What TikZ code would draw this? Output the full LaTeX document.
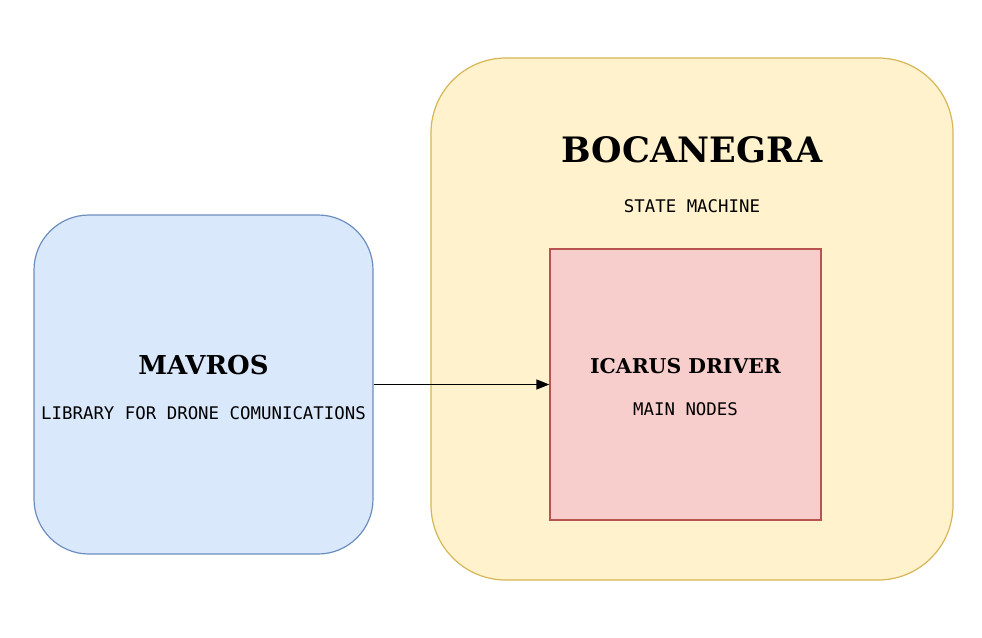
\documentclass[tikz,border=0pt]{standalone}
\usepackage{fontspec}
\newfontfamily\titlefont{DejaVu Serif}
\newfontfamily\monofont{DejaVu Sans Mono}
\usetikzlibrary{arrows.meta}
\definecolor{bluefill}{HTML}{DAE8FC}
\definecolor{blueline}{HTML}{6C8EBF}
\definecolor{yellowfill}{HTML}{FFF2CC}
\definecolor{yellowline}{HTML}{D6B656}
\definecolor{redfill}{HTML}{F8CECC}
\definecolor{redline}{HTML}{B85450}
\tikzset{
  box/.style={inner sep=0pt, line width=1.2pt},
  ttl/.style={font=\titlefont\bfseries, inner sep=0pt, anchor=center},
  sub/.style={font=\monofont\fontsize{17.4}{20}\selectfont, inner sep=0pt, anchor=center},
  conn/.style={line width=1.2pt, -{Triangle[length=13pt,width=10pt]}},
}
\begin{document}
\begin{tikzpicture}[x=1pt,y=-1pt]
\useasboundingbox (0,0) rectangle (982,637);
% boxes
\node[box, draw=yellowline, fill=yellowfill, rounded corners=75pt, minimum width=522pt, minimum height=522pt] (boca) at (692,319) {};
\node[box, draw=blueline, fill=bluefill, rounded corners=55pt, minimum width=339pt, minimum height=339pt] (mav) at (203.5,384.5) {};
\node[box, draw=redline, fill=redfill, minimum width=271pt, minimum height=271pt] (ica) at (685.5,384.5) {};
% texts
\node[ttl, font=\titlefont\bfseries\fontsize{35}{40}\selectfont] (bocat) at (692,150) {BOCANEGRA};
\node[sub] (bocas) at (692,206) {STATE MACHINE};
\node[ttl, font=\titlefont\bfseries\fontsize{26}{30}\selectfont] (mavt) at (203.5,365) {MAVROS};
\node[sub] (mavs) at (203.5,413) {LIBRARY FOR DRONE COMUNICATIONS};
\node[ttl, font=\titlefont\bfseries\fontsize{20.4}{25}\selectfont] (icat) at (685.5,366) {ICARUS DRIVER};
\node[sub] (icas) at (685.5,409) {MAIN NODES};
% connector
\draw[conn] (mav.east) -- (ica.west);
\end{tikzpicture}
\end{document}
